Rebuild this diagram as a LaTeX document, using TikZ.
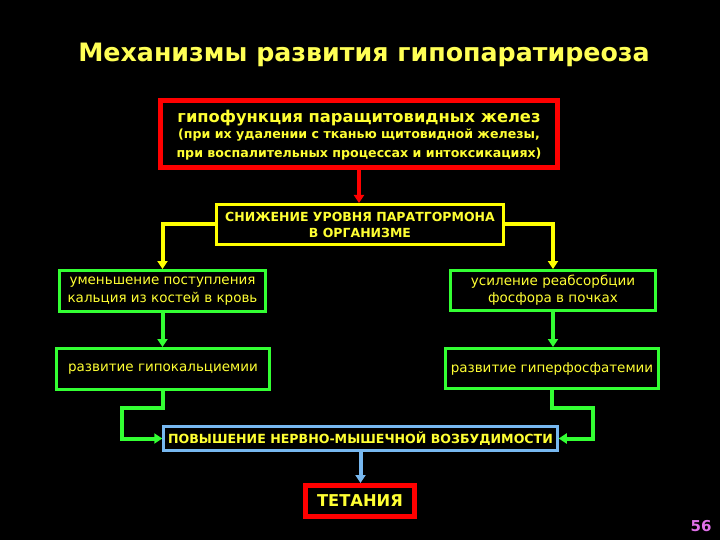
\documentclass[tikz,border=0pt]{standalone}
\usepackage{fontspec}
\setmainfont{DejaVu Sans}
\usetikzlibrary{arrows.meta}
\definecolor{ttl}{HTML}{FFFF55}
\definecolor{txt}{HTML}{FFFF33}
\definecolor{rd}{HTML}{FF0000}
\definecolor{yl}{HTML}{FFFF00}
\definecolor{gr}{HTML}{33FF33}
\definecolor{bl}{HTML}{77B8F0}
\definecolor{pg}{HTML}{E070E8}
\tikzset{
  box/.style={draw, rectangle, inner sep=0pt, align=center, text=txt, fill=black},
  redbox/.style={box, draw=rd, line width=5pt},
  ylbox/.style={box, draw=yl, line width=3pt},
  grbox/.style={box, draw=gr, line width=3pt},
  blbox/.style={box, draw=bl, line width=2.5pt},
  tip/.style={-{Triangle[length=8pt,width=10pt]}},
  redln/.style={tip, draw=rd, line width=4pt},
  ylln/.style={tip, draw=yl, line width=4pt},
  grln/.style={tip, draw=gr, line width=4pt},
  blln/.style={tip, draw=bl, line width=4pt},
}
\begin{document}
\begin{tikzpicture}[x=1pt,y=-1pt]
\fill[black] (0,0) rectangle (720,540);
\useasboundingbox (0,0) rectangle (720,540);
\node[text=ttl, font=\fontsize{25.3}{30}\selectfont\bfseries] (title) at (364,55) {Механизмы развития гипопаратиреоза};
\node[redbox, minimum width=397pt, minimum height=67pt] (hypo) at (359,134) {};
\node[text=txt, font=\fontsize{16.3}{19}\selectfont\bfseries] (h1) at (359,118) {гипофункция паращитовидных желез};
\node[text=txt, font=\fontsize{12.6}{18.5}\selectfont\bfseries, align=center] (h2) at (359,144.5) {(при их удалении с тканью щитовидной железы,\\при воспалительных процессах и интоксикациях)};
\node[ylbox, minimum width=287pt, minimum height=40pt, font=\fontsize{12.5}{16}\selectfont\bfseries] (pth) at (360,224.5) {СНИЖЕНИЕ УРОВНЯ ПАРАТГОРМОНА\\В ОРГАНИЗМЕ};
\node[grbox, minimum width=206pt, minimum height=41pt, font=\fontsize{13.5}{17.5}\selectfont] (ca1) at (162.5,291) {уменьшение поступления\\кальция из костей в кровь};
\node[grbox, minimum width=205pt, minimum height=40pt, font=\fontsize{13.5}{17}\selectfont] (p1) at (553,290.5) {усиление реабсорбции\\фосфора в почках};
\node[grbox, minimum width=213pt, minimum height=41pt, font=\fontsize{13.5}{17}\selectfont] (ca2) at (163,369) {развитие гипокальциемии};
\node[grbox, minimum width=213pt, minimum height=40pt, font=\fontsize{13.5}{17}\selectfont] (p2) at (552,368.5) {развитие гиперфосфатемии};
\node[blbox, minimum width=394pt, minimum height=24pt, font=\fontsize{12.6}{15}\selectfont\bfseries] (nmv) at (360.5,438.5) {ПОВЫШЕНИЕ НЕРВНО-МЫШЕЧНОЙ ВОЗБУДИМОСТИ};
\node[redbox, minimum width=109pt, minimum height=31pt, font=\fontsize{16.3}{19}\selectfont\bfseries] (tet) at (360,501) {ТЕТАНИЯ};
\node[text=pg, font=\fontsize{15}{18}\selectfont\bfseries] (pn) at (701,526) {56};
\coordinate (lk) at (122,408);
\coordinate (rk) at (593,408);
\draw[redln] (hypo.south) -- (hypo.south |- pth.north);
\draw[ylln] (pth.west) -| (ca1.north);
\draw[ylln] (pth.east) -| (p1.north);
\draw[grln] (ca1.south) -- (ca1.south |- ca2.north);
\draw[grln] (p1.south) -- (p1.south |- p2.north);
\draw[grln] (ca2.south) |- (lk) |- (nmv.west);
\draw[grln] (p2.south) |- (rk) |- (nmv.east);
\draw[blln] (nmv.south) -- (nmv.south |- tet.north);
\end{tikzpicture}
\end{document}
